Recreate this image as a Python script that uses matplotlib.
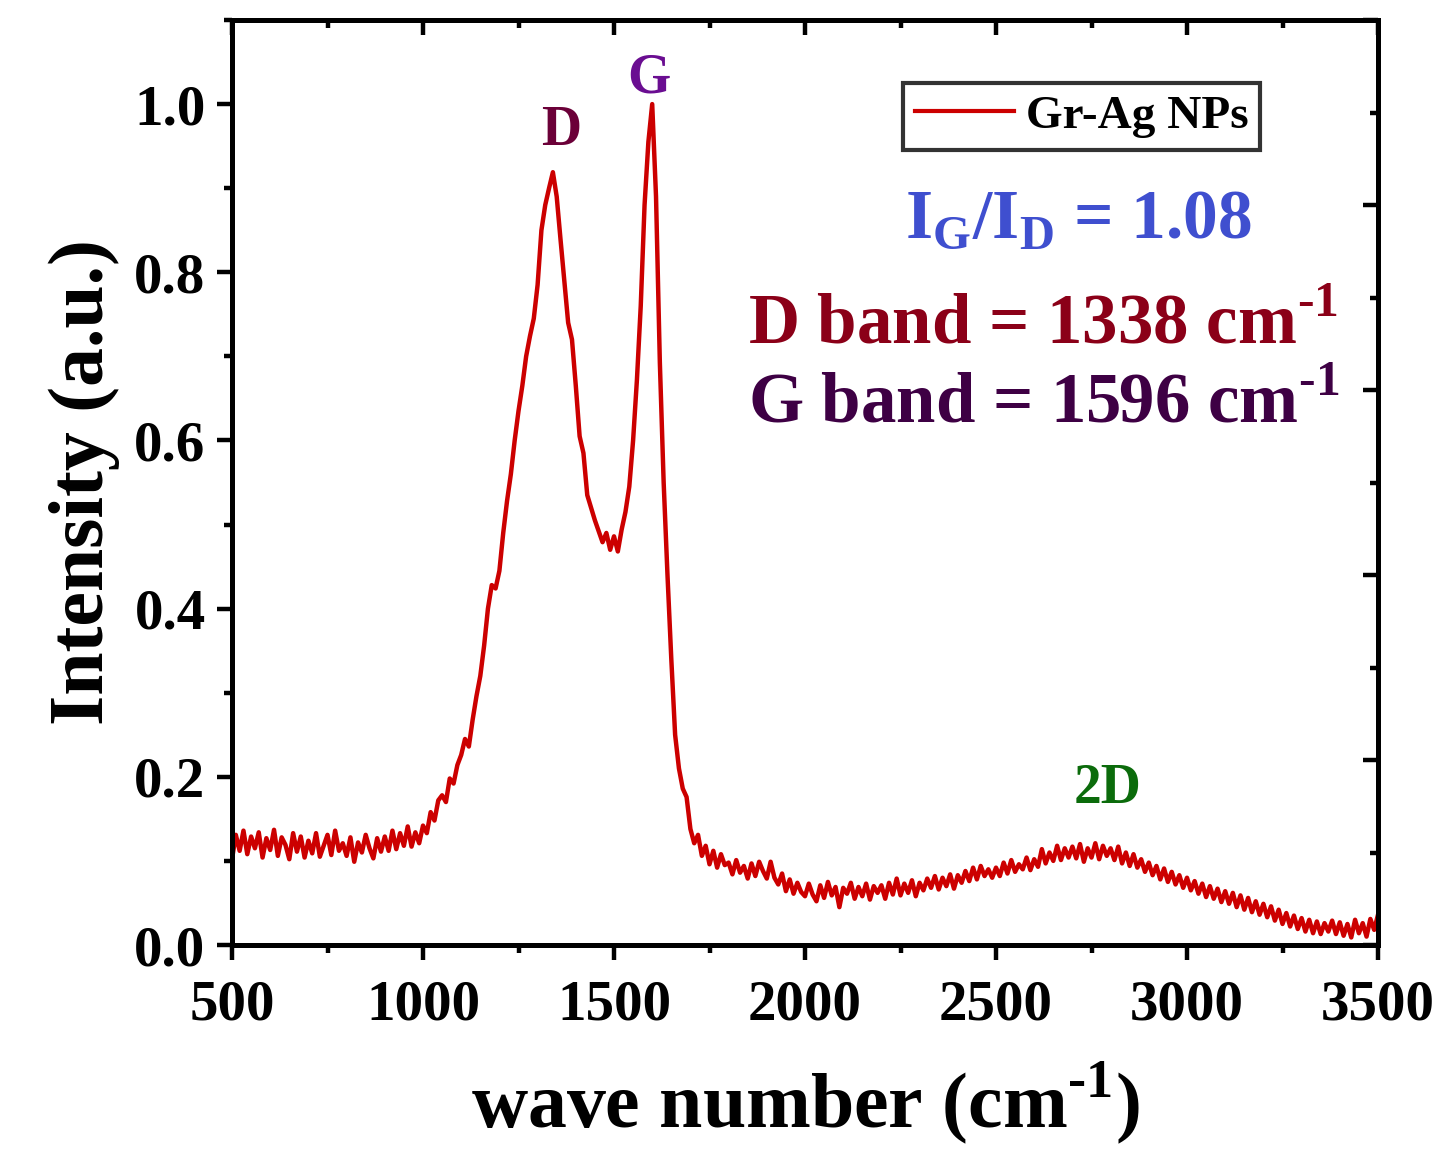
import numpy as np
import matplotlib
matplotlib.use('Agg')
import matplotlib.pyplot as plt
from matplotlib.ticker import MultipleLocator, FormatStrFormatter

# Raman spectrum of Gr-Ag NPs, sampled every 10 cm-1 from 500 to 3500
wavenumber = np.arange(500, 3501, 10)
intensity = [
    0.102, 0.131, 0.112, 0.136, 0.108, 0.129, 0.115, 0.134, 0.104, 0.127,  # 500
    0.113, 0.137, 0.106, 0.128, 0.119, 0.102, 0.133, 0.111, 0.129, 0.104,  # 600
    0.124, 0.109, 0.133, 0.105, 0.118, 0.131, 0.107, 0.136, 0.112, 0.121,  # 700
    0.106, 0.128, 0.099, 0.122, 0.110, 0.131, 0.115, 0.103, 0.127, 0.111,  # 800
    0.129, 0.112, 0.136, 0.114, 0.133, 0.118, 0.141, 0.117, 0.134, 0.121,  # 900
    0.142, 0.133, 0.158, 0.148, 0.172, 0.178, 0.170, 0.198, 0.192, 0.214,  # 1000
    0.226, 0.245, 0.236, 0.268, 0.296, 0.320, 0.356, 0.400, 0.428, 0.424,  # 1100
    0.445, 0.490, 0.528, 0.560, 0.600, 0.635, 0.665, 0.700, 0.724, 0.745,  # 1200
    0.785, 0.850, 0.880, 0.900, 0.919, 0.890, 0.839, 0.790, 0.740, 0.720,  # 1300
    0.665, 0.605, 0.585, 0.535, 0.520, 0.505, 0.492, 0.479, 0.490, 0.470,  # 1400
    0.486, 0.468, 0.494, 0.515, 0.545, 0.600, 0.672, 0.760, 0.880, 0.955,  # 1500
    1.000, 0.890, 0.693, 0.550, 0.440, 0.340, 0.250, 0.210, 0.186, 0.176,  # 1600
    0.138, 0.121, 0.131, 0.106, 0.118, 0.096, 0.112, 0.092, 0.108, 0.095,  # 1700
    0.098, 0.084, 0.101, 0.086, 0.094, 0.079, 0.097, 0.082, 0.099, 0.088,  # 1800
    0.079, 0.099, 0.080, 0.072, 0.085, 0.064, 0.078, 0.061, 0.074, 0.063,  # 1900
    0.058, 0.073, 0.060, 0.052, 0.071, 0.056, 0.075, 0.059, 0.069, 0.045,  # 2000
    0.068, 0.061, 0.074, 0.055, 0.069, 0.058, 0.073, 0.054, 0.070, 0.062,  # 2100
    0.071, 0.055, 0.074, 0.060, 0.079, 0.059, 0.073, 0.062, 0.077, 0.058,  # 2200
    0.074, 0.065, 0.079, 0.068, 0.082, 0.066, 0.080, 0.070, 0.084, 0.067,  # 2300
    0.083, 0.074, 0.088, 0.076, 0.092, 0.078, 0.094, 0.082, 0.090, 0.080,  # 2400
    0.092, 0.082, 0.098, 0.085, 0.101, 0.087, 0.096, 0.090, 0.104, 0.089,  # 2500
    0.102, 0.093, 0.114, 0.097, 0.110, 0.100, 0.118, 0.101, 0.115, 0.104,  # 2600
    0.117, 0.103, 0.120, 0.099, 0.115, 0.104, 0.121, 0.102, 0.118, 0.106,  # 2700
    0.115, 0.101, 0.117, 0.097, 0.110, 0.094, 0.108, 0.092, 0.102, 0.087,  # 2800
    0.098, 0.083, 0.094, 0.078, 0.091, 0.075, 0.087, 0.072, 0.083, 0.068,  # 2900
    0.080, 0.065, 0.076, 0.061, 0.073, 0.057, 0.070, 0.055, 0.067, 0.051,  # 3000
    0.064, 0.049, 0.062, 0.045, 0.059, 0.042, 0.056, 0.039, 0.052, 0.036,  # 3100
    0.049, 0.033, 0.046, 0.029, 0.042, 0.025, 0.038, 0.022, 0.035, 0.019,  # 3200
    0.032, 0.016, 0.030, 0.014, 0.028, 0.013, 0.026, 0.016, 0.029, 0.013,  # 3300
    0.027, 0.011, 0.025, 0.009, 0.030, 0.014, 0.026, 0.010, 0.031, 0.018,  # 3400
    0.036,
]

d_band = 1338
g_band = 1596
ig_id = 1.08
band_labels = ['D', 'G', '2D']
band_label_x = [1361, 1592, 2791]
band_label_y = [0.968, 1.030, 0.185]
band_label_colors = ['#6b0038', '#6a0d91', '#0b6b0b']

HY = '\u2010'  # plain hyphen for the "-1" exponents

plt.rcParams['font.family'] = 'Liberation Serif'
plt.rcParams['font.weight'] = 'bold'
plt.rcParams['axes.labelweight'] = 'bold'
plt.rcParams['mathtext.fontset'] = 'custom'
plt.rcParams['mathtext.rm'] = 'Liberation Serif:bold'
plt.rcParams['mathtext.bf'] = 'Liberation Serif:bold'

fig = plt.figure(figsize=(14.36, 11.51), dpi=100)
ax = fig.add_axes([232 / 1436, 1 - 945 / 1151, (1378 - 232) / 1436, (945 - 20) / 1151])

ax.plot(wavenumber, intensity, color='#cc0000', lw=3.2, label='Gr-Ag NPs')

ax.set_xlim(500, 3500)
ax.set_ylim(0, 1.1)
ax.xaxis.set_major_locator(MultipleLocator(500))
ax.xaxis.set_minor_locator(MultipleLocator(250))
ax.yaxis.set_major_locator(MultipleLocator(0.2))
ax.yaxis.set_minor_locator(MultipleLocator(0.1))
ax.yaxis.set_major_formatter(FormatStrFormatter('%.1f'))

for sp in ax.spines.values():
    sp.set_linewidth(3.6)
ax.tick_params(which='major', direction='out', length=11, width=3.2, labelsize=41)
ax.tick_params(which='minor', direction='out', length=6, width=3.2)
ax.tick_params(axis='x', which='major', pad=14)
ax.tick_params(axis='y', which='major', pad=8)

# top ticks point inward, bottom ones outward
secx = ax.secondary_xaxis('top')
secx.xaxis.set_major_locator(MultipleLocator(500))
secx.xaxis.set_minor_locator(MultipleLocator(250))
secx.tick_params(which='major', direction='in', length=11, width=3.2, labeltop=False)
secx.tick_params(which='minor', direction='in', length=6, width=3.2)
secx.spines['top'].set_linewidth(3.6)

# right axis runs 0..1 on its own scale
ax2 = ax.twinx()
ax2.set_ylim(0, 1)
ax2.yaxis.set_major_locator(MultipleLocator(0.2))
ax2.yaxis.set_minor_locator(MultipleLocator(0.1))
ax2.tick_params(which='major', direction='in', length=11, width=3.2, labelright=False)
ax2.tick_params(which='minor', direction='in', length=6, width=3.2)
for sp in ax2.spines.values():
    sp.set_linewidth(3.6)

ax.set_xlabel(r'wave number (cm$^{\mathregular{' + HY + '1}}$)', fontsize=56, labelpad=20)
ax.set_ylabel('Intensity (a.u.)', fontsize=56, labelpad=10)

for lab, bx, by, c in zip(band_labels, band_label_x, band_label_y, band_label_colors):
    ax.text(bx, by, lab, color=c, fontsize=40, ha='center', va='center')

leg = ax.legend(loc='upper left', bbox_to_anchor=(903 / 1436, 1 - 83 / 1151),
                bbox_transform=fig.transFigure, fontsize=34, frameon=True,
                fancybox=False, edgecolor='black', handlelength=2.1,
                handletextpad=0.25, borderpad=0.25, borderaxespad=0)
leg.get_frame().set_linewidth(3)
leg.get_lines()[0].set_linewidth(3.0)

fig.text(905 / 1436, 1 - 238 / 1151,
         r'I$_{\mathregular{G}}$/I$_{\mathregular{D}}$ = ' + f'{ig_id:.2f}',
         color='#3f4fcf', fontsize=50, va='baseline', ha='left')
fig.text(748 / 1436, 1 - 343 / 1151,
         'D band = ' + f'{d_band}' + r' cm$^{\mathregular{' + HY + '1}}$',
         color='#8b0018', fontsize=51, va='baseline', ha='left')
fig.text(748 / 1436, 1 - 422 / 1151,
         'G band = ' + f'{g_band}' + r' cm$^{\mathregular{' + HY + '1}}$',
         color='#3e0044', fontsize=51, va='baseline', ha='left')

fig.savefig('out.png', dpi=100)
